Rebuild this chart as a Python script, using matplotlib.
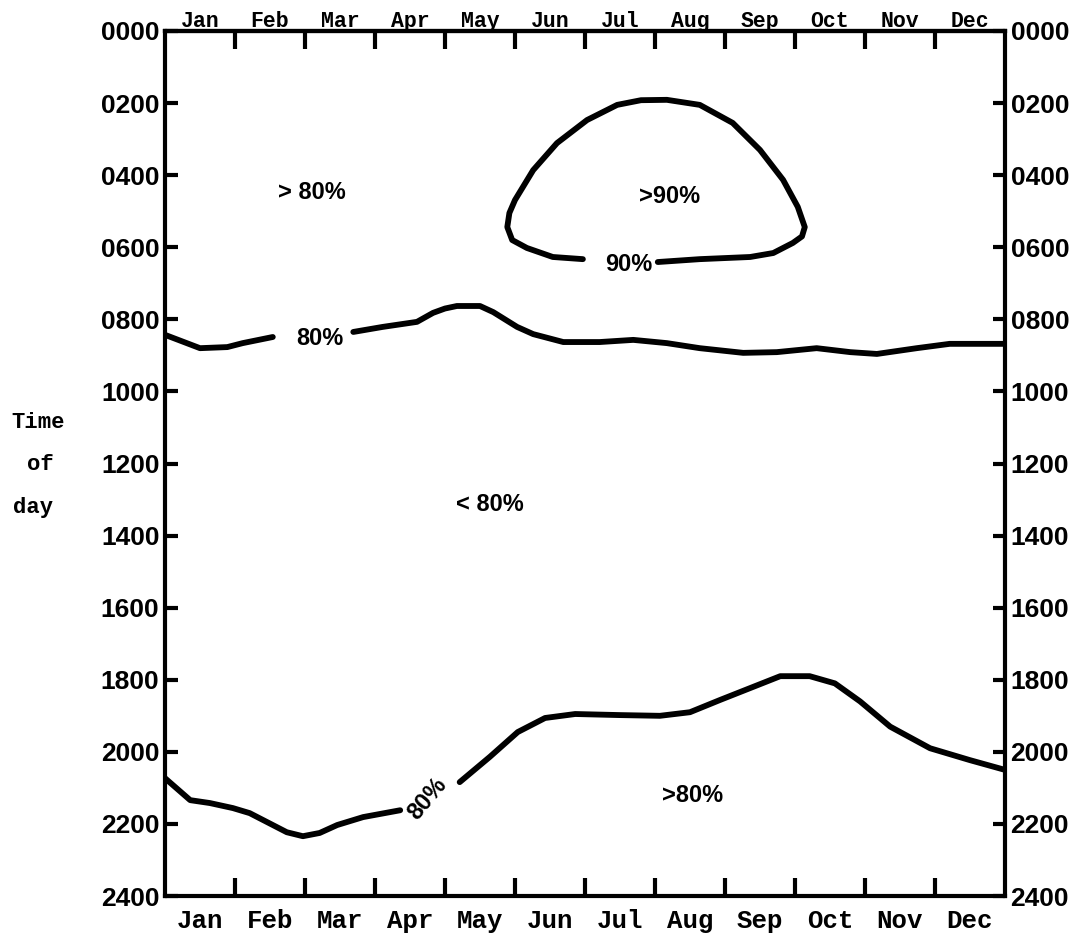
import numpy as np
import matplotlib.pyplot as plt

# month axis: 0..12, hour axis: 0..24 (inverted)
months = ["Jan", "Feb", "Mar", "Apr", "May", "Jun", "Jul", "Aug", "Sep", "Oct", "Nov", "Dec"]
hour_ticks = list(range(0, 25, 2))
hour_labels = ["%02d00" % h for h in hour_ticks]

# upper 80% line (broken for its label)
up80_m_a = [0.0, 0.5, 0.89, 1.11, 1.54]
up80_h_a = [8.43, 8.80, 8.77, 8.66, 8.49]
up80_m_b = [2.69, 3.11, 3.6, 3.83, 4.0, 4.17, 4.5, 4.69, 5.03, 5.26, 5.69, 6.21, 6.69,
            7.17, 7.64, 8.26, 8.74, 9.31, 9.79, 10.17, 10.74, 11.21, 12.0]
up80_h_b = [8.35, 8.21, 8.07, 7.82, 7.70, 7.63, 7.63, 7.80, 8.21, 8.41, 8.63, 8.63, 8.57,
            8.66, 8.80, 8.93, 8.91, 8.80, 8.91, 8.96, 8.80, 8.68, 8.68]

# 90% loop (open where the label sits)
loop90_m = [5.97, 5.54, 5.17, 4.96, 4.89, 4.92, 5.0, 5.26, 5.6, 6.03, 6.46, 6.8, 7.17, 7.64,
            8.11, 8.5, 8.83, 9.04, 9.14, 9.1, 8.97, 8.69, 8.36, 7.64, 7.04]
loop90_h = [6.33, 6.27, 6.02, 5.80, 5.44, 5.05, 4.69, 3.86, 3.11, 2.47, 2.05, 1.92, 1.91, 2.05,
            2.55, 3.30, 4.13, 4.88, 5.44, 5.70, 5.88, 6.16, 6.27, 6.33, 6.41]

# lower 80% line
lo80_m_a = [0.0, 0.36, 0.64, 0.97, 1.21, 1.46, 1.74, 1.97, 2.21, 2.46, 2.83, 3.36]
lo80_h_a = [20.73, 21.34, 21.42, 21.56, 21.70, 21.95, 22.23, 22.34, 22.25, 22.03, 21.81, 21.62]
lo80_m_b = [4.21, 4.64, 5.04, 5.43, 5.86, 6.5, 7.07, 7.5, 7.93, 8.36, 8.79, 9.21,
            9.57, 9.93, 10.36, 10.93, 11.5, 12.0]
lo80_h_b = [20.84, 20.14, 19.45, 19.06, 18.95, 18.98, 19.0, 18.9, 18.56, 18.23, 17.9, 17.9,
            18.1, 18.6, 19.3, 19.9, 20.23, 20.5]

# region / contour labels: (text, month, hour, rotation)
labels = [("> 80%", 2.1, 4.47, 0), (">90%", 7.21, 4.58, 0), ("90%", 6.63, 6.49, 0),
          ("80%", 2.21, 8.52, 0), ("< 80%", 4.64, 13.15, 0), ("80%", 3.75, 21.3, 50),
          (">80%", 7.54, 21.2, 0)]

fig = plt.figure(figsize=(10.92, 9.42), dpi=100)
ax = fig.add_axes([0.1511, 0.0488, 0.7692, 0.9183])

lw = 4.2
for mm, hh in [(up80_m_a, up80_h_a), (up80_m_b, up80_h_b), (loop90_m, loop90_h),
               (lo80_m_a, lo80_h_a), (lo80_m_b, lo80_h_b)]:
    ax.plot(mm, hh, color="black", lw=lw, solid_capstyle="round", solid_joinstyle="round")

lab_font = dict(family="Liberation Sans", weight="bold", size=17)
for txt, m, h, rot in labels:
    ax.text(m, h, txt, ha="center", va="center", rotation=rot, **lab_font)

ax.set_xlim(0, 12)
ax.set_ylim(24, 0)

for sp in ax.spines.values():
    sp.set_linewidth(3)

# month boundaries as ticks, names in the middle of each month
ax.set_xticks(np.arange(1, 12))
ax.set_xticklabels([])
ax.set_xticks(np.arange(12) + 0.5, minor=True)
ax.set_xticklabels(months, minor=True, family="Liberation Mono", weight="bold", size=18.5)
ax.tick_params(axis="x", which="major", direction="in", length=13, width=3, top=True, bottom=True)
ax.tick_params(axis="x", which="minor", length=0, pad=9)

top = ax.secondary_xaxis("top")
top.set_xticks(np.arange(12) + 0.5)
top.set_xticklabels(months, family="Liberation Mono", weight="bold", size=15.5)
top.tick_params(length=0, pad=-1)
top.spines["top"].set_linewidth(3)

ax.set_yticks(hour_ticks)
ax.set_yticklabels(hour_labels, family="Liberation Sans", weight="bold", size=19)
ax.tick_params(axis="y", direction="in", length=9, width=3, left=True, right=True,
               labelleft=True, labelright=True, pad=4)

fig.text(38 / 1092, 1 - 423 / 942, "Time", ha="center", va="center",
         family="Liberation Mono", weight="bold", size=16)
fig.text(40 / 1092, 1 - 464 / 942, "of", ha="center", va="center",
         family="Liberation Mono", weight="bold", size=16)
fig.text(33 / 1092, 1 - 508 / 942, "day", ha="center", va="center",
         family="Liberation Mono", weight="bold", size=16)

fig.savefig("out.png", dpi=100)
